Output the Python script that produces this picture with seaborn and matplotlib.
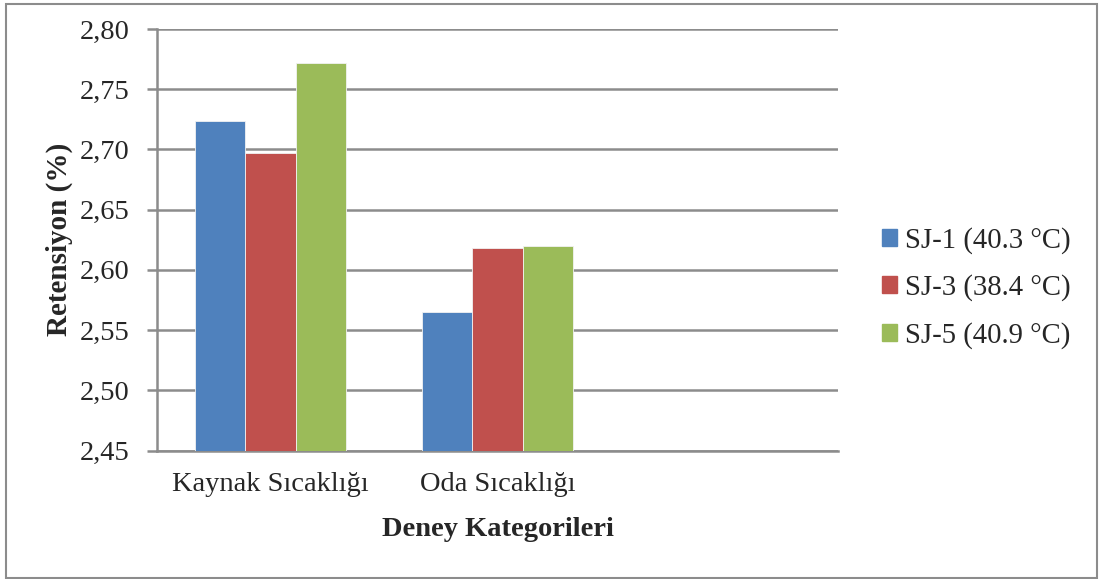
import matplotlib
matplotlib.use("Agg")
import matplotlib.pyplot as plt
import matplotlib.patches as mpatches
from matplotlib.ticker import FuncFormatter
import seaborn as sns
import pandas as pd

# Veriler
kategoriler = ["Kaynak Sıcaklığı", "Oda Sıcaklığı"]
seriler = ["SJ-1 (40.3 °C)", "SJ-3 (38.4 °C)", "SJ-5 (40.9 °C)"]
sj1 = [2.724, 2.565]
sj3 = [2.697, 2.618]
sj5 = [2.772, 2.620]
renkler = ["#4F81BD", "#C0504D", "#9BBB59"]
y_ticks = [2.45, 2.50, 2.55, 2.60, 2.65, 2.70, 2.75, 2.80]

rows = []
for seri, degerler in zip(seriler, [sj1, sj3, sj5]):
    for kat, d in zip(kategoriler, degerler):
        rows.append({"Kategori": kat, "Seri": seri, "Retensiyon": d})
df = pd.DataFrame(rows)

sns.set_style("white")
plt.rcParams["font.family"] = ["Liberation Serif", "DejaVu Serif"]

fig = plt.figure(figsize=(10.99, 5.79), dpi=100)
ax = fig.add_axes([157 / 1099, 1 - 450.5 / 579, 681 / 1099, 421.5 / 579])

# üçüncü boş kategori Excel'deki boş alanı taklit ediyor
sira = kategoriler + [" "]
sns.barplot(data=df, x="Kategori", y="Retensiyon", hue="Seri", order=sira,
            hue_order=seriler, palette=renkler, saturation=1, width=0.666,
            dodge=True, edgecolor="#F2F2F2", linewidth=0.6, errorbar=None,
            ax=ax, legend=False, zorder=3)

ax.set_xlim(-0.5, 2.5)
ax.set_ylim(2.45, 2.80)
ax.set_yticks(y_ticks)
ax.yaxis.set_major_formatter(FuncFormatter(lambda v, p: f"{v:.2f}".replace(".", ",")))
ax.set_xticks([0, 1, 2])
ax.set_xticklabels(kategoriler + [""])

ax.grid(axis="y", color="#8C8C8C", linewidth=1.8, zorder=0)
ax.set_axisbelow(True)
for side in ["top", "right"]:
    ax.spines[side].set_visible(False)
ax.spines["left"].set_color("#8C8C8C")
ax.spines["left"].set_linewidth(1.8)
ax.spines["bottom"].set_color("#8C8C8C")
ax.spines["bottom"].set_linewidth(1.8)
ax.tick_params(axis="y", which="major", left=True, length=7, width=1.8,
               color="#8C8C8C", labelsize=20.5, pad=13)
ax.tick_params(axis="x", bottom=False, labelsize=20.5, pad=12)

ax.set_ylabel("Retensiyon (%)", fontsize=21, fontweight="bold", va="center")
ax.yaxis.set_label_coords(-0.144, 0.5)
ax.set_xlabel("Deney Kategorileri", fontsize=20.5, fontweight="bold", va="center")
ax.xaxis.set_label_coords(0.5, -0.1885)

handles = [mpatches.Patch(color=c, label=s) for c, s in zip(renkler, seriler)]
fig.legend(handles=handles, loc="center left", bbox_to_anchor=(882 / 1099, 1 - 288 / 579),
           frameon=False, fontsize=20.7, handlelength=0.53, handleheight=0.53,
           handletextpad=0.28, labelspacing=0.72, borderpad=0, borderaxespad=0)

# dış çerçeve
fig.patches.append(mpatches.Rectangle((6 / 1099, 1 / 579), 1091 / 1099, 574 / 579,
                                      transform=fig.transFigure, fill=False,
                                      edgecolor="#8C8C8C", linewidth=1.5))

fig.savefig("out.png", dpi=100)
